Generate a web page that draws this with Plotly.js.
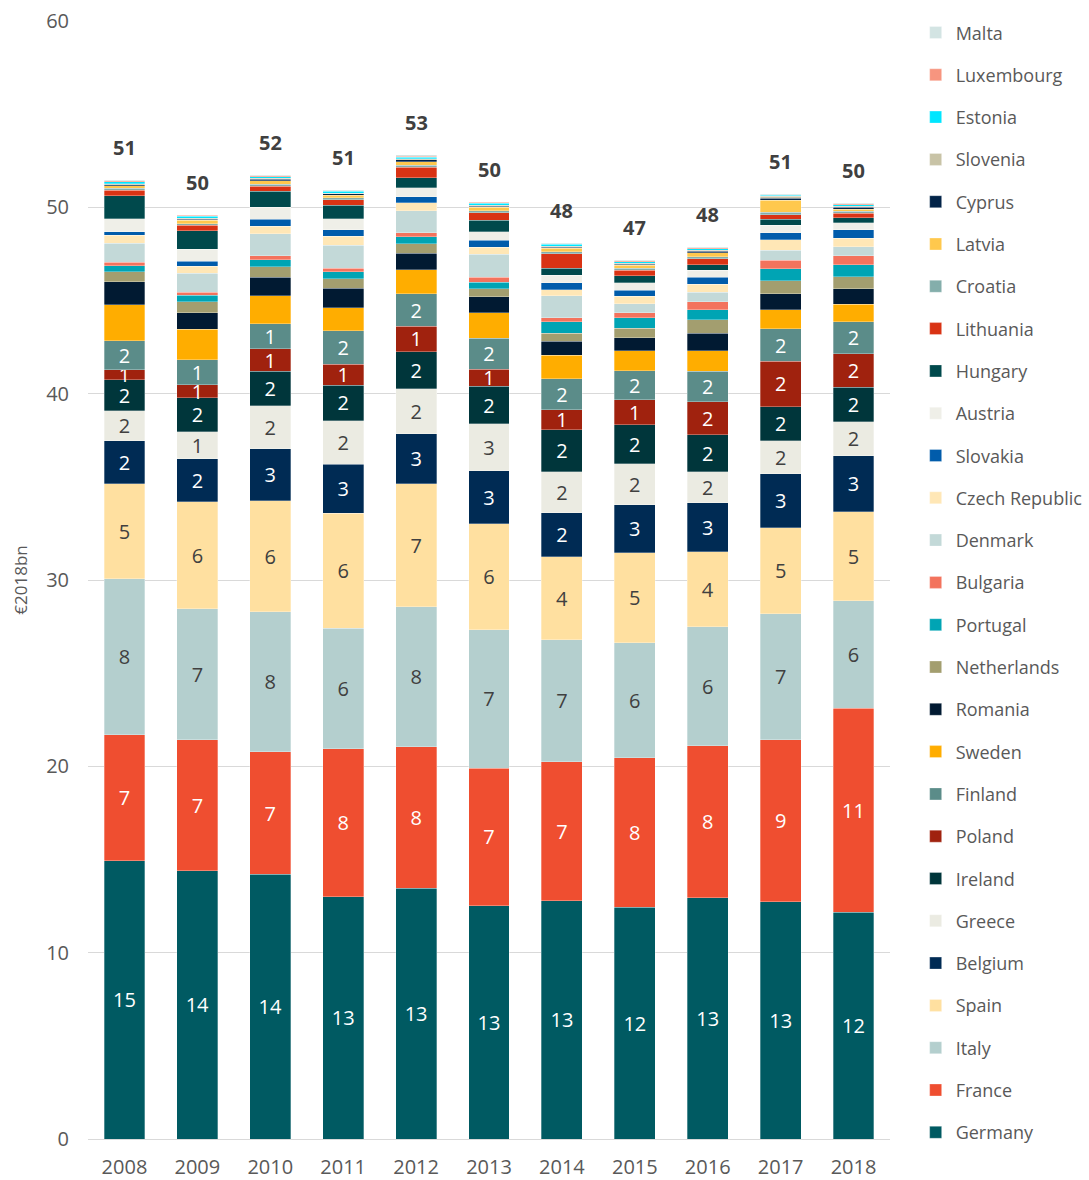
<!DOCTYPE html>
<html>
<head>
<meta charset="utf-8">
<script src="https://cdn.plot.ly/plotly-3.0.1.min.js"></script>
<style>html,body{margin:0;padding:0;background:#fff;}#chart{width:1089px;height:1180px;}</style>
</head>
<body>
<div id="chart"></div>
<script>
const years = ["2008","2009","2010","2011","2012","2013","2014","2015","2016","2017","2018"];

const Germany     = [14.92, 14.39, 14.22, 12.99, 13.47, 12.51, 12.78, 12.45, 12.94, 12.72, 12.18];
const France      = [6.77, 7.03, 6.55, 7.95, 7.57, 7.40, 7.46, 8.00, 8.16, 8.70, 10.95];
const Italy       = [8.37, 7.03, 7.52, 6.48, 7.52, 7.41, 6.55, 6.17, 6.38, 6.76, 5.75];
const Spain       = [5.10, 5.74, 5.96, 6.17, 6.60, 5.69, 4.45, 4.83, 4.03, 4.62, 4.78];
const Belgium     = [2.31, 2.31, 2.79, 2.63, 2.68, 2.85, 2.36, 2.58, 2.63, 2.89, 3.00];
const Greece      = [1.61, 1.45, 2.30, 2.33, 2.43, 2.52, 2.20, 2.20, 1.66, 1.78, 1.84];
const Ireland     = [1.66, 1.82, 1.85, 1.91, 1.99, 2.02, 2.26, 2.10, 1.99, 1.84, 1.85];
const Poland      = [0.54, 0.70, 1.23, 1.13, 1.36, 0.92, 1.07, 1.34, 1.77, 2.43, 1.79];
const Finland     = [1.55, 1.34, 1.34, 1.79, 1.74, 1.66, 1.68, 1.55, 1.65, 1.74, 1.71];
const Sweden      = [1.93, 1.66, 1.49, 1.23, 1.29, 1.35, 1.26, 1.08, 1.09, 1.02, 0.95];
const Romania     = [1.24, 0.86, 1.00, 1.06, 0.89, 0.86, 0.73, 0.70, 0.95, 0.86, 0.82];
const Netherlands = [0.53, 0.60, 0.55, 0.50, 0.50, 0.43, 0.45, 0.50, 0.71, 0.70, 0.66];
const Portugal    = [0.33, 0.35, 0.39, 0.36, 0.39, 0.36, 0.61, 0.57, 0.54, 0.64, 0.63];
const Bulgaria    = [0.20, 0.17, 0.21, 0.21, 0.20, 0.28, 0.21, 0.28, 0.43, 0.45, 0.48];
const Denmark     = [1.00, 1.02, 1.18, 1.23, 1.18, 1.22, 1.18, 0.48, 0.52, 0.55, 0.50];
const Czech       = [0.43, 0.38, 0.41, 0.48, 0.43, 0.39, 0.32, 0.39, 0.41, 0.55, 0.45];
const Slovakia    = [0.20, 0.27, 0.36, 0.34, 0.32, 0.36, 0.39, 0.34, 0.38, 0.39, 0.45];
const Austria     = [0.70, 0.62, 0.66, 0.61, 0.50, 0.47, 0.40, 0.39, 0.38, 0.41, 0.39];
const Hungary     = [1.23, 1.00, 0.86, 0.71, 0.54, 0.61, 0.36, 0.38, 0.30, 0.31, 0.27];
const Lithuania   = [0.30, 0.30, 0.27, 0.31, 0.54, 0.41, 0.79, 0.30, 0.32, 0.23, 0.23];
const Croatia     = [0.10, 0.09, 0.10, 0.10, 0.12, 0.10, 0.10, 0.10, 0.12, 0.14, 0.10];
const Latvia      = [0.15, 0.18, 0.20, 0.12, 0.20, 0.18, 0.20, 0.15, 0.20, 0.66, 0.12];
const Cyprus      = [0.05, 0.05, 0.06, 0.08, 0.09, 0.06, 0.06, 0.06, 0.09, 0.10, 0.10];
const Slovenia    = [0.05, 0.05, 0.05, 0.04, 0.05, 0.05, 0.05, 0.05, 0.05, 0.10, 0.05];
const Estonia     = [0.10, 0.12, 0.10, 0.10, 0.10, 0.10, 0.09, 0.10, 0.09, 0.05, 0.10];
const Luxembourg  = [0.05, 0.04, 0.05, 0.04, 0.05, 0.05, 0.04, 0.05, 0.04, 0.04, 0.04];
const Malta       = [0.05, 0.04, 0.05, 0.04, 0.06, 0.05, 0.05, 0.04, 0.05, 0.05, 0.05];

const countryNames = ["Germany","France","Italy","Spain","Belgium","Greece","Ireland","Poland","Finland","Sweden","Romania","Netherlands","Portugal","Bulgaria","Denmark","Czech Republic","Slovakia","Austria","Hungary","Lithuania","Croatia","Latvia","Cyprus","Slovenia","Estonia","Luxembourg","Malta"];
const countryValues = [Germany,France,Italy,Spain,Belgium,Greece,Ireland,Poland,Finland,Sweden,Romania,Netherlands,Portugal,Bulgaria,Denmark,Czech,Slovakia,Austria,Hungary,Lithuania,Croatia,Latvia,Cyprus,Slovenia,Estonia,Luxembourg,Malta];
const countryColors = ["#005A62","#EF4E30","#B4CFCE","#FFE0A0","#002B54","#EBEBE2","#00363B","#A0220E","#5B8C89","#FFAD00","#011A32","#A39E6F","#00A4B4","#F3735D","#C3D9D8","#FFE7B6","#015CAB","#EFEFE8","#00494C","#D93314","#84AEAB","#FFC84D","#022348","#C8C3A6","#00E6FF","#F7957F","#D3E4E3"];
const labelledCount = 9;
const labelColors = ["#FFFFFF","#FFFFFF","#404040","#404040","#FFFFFF","#404040","#FFFFFF","#FFFFFF","#FFFFFF"];

const font = '"Open Sans", "Noto Sans", sans-serif';

const traces = countryNames.map((name, i) => {
  const t = {
    type: 'bar',
    name: name,
    x: years,
    y: countryValues[i],
    legendgroup: name,
    legendrank: 100 - i,
    marker: {color: countryColors[i], line: {color: 'rgba(255,255,255,0.5)', width: 0.6}},
    hoverinfo: 'x+y+name'
  };
  if (i < labelledCount) {
    t.texttemplate = '%{y:.0f}';
    t.textposition = 'inside';
    t.insidetextanchor = 'middle';
    t.constraintext = 'none';
    t.textangle = 0;
    t.textfont = {family: font, size: 20, color: labelColors[i]};
  } else {
    t.textposition = 'none';
  }
  return t;
});

const totals = years.map((_, j) => countryValues.reduce((s, arr) => s + arr[j], 0));
const annotations = years.map((yr, j) => ({
  x: j, y: totals[j], xref: 'x', yref: 'y',
  text: '<b>' + String(Math.round(totals[j])) + '</b>',
  showarrow: false, yanchor: 'bottom', yshift: 17,
  font: {family: font, size: 20, color: '#404040'}
}));

const layout = {
  width: 1089, height: 1180,
  margin: {l: 88, r: 199, t: 21, b: 41, autoexpand: false},
  barmode: 'stack',
  bargap: 0.44,
  paper_bgcolor: '#ffffff',
  plot_bgcolor: '#ffffff',
  font: {family: font, color: '#595959'},
  showlegend: true,
  legend: {
    x: 1.032, xanchor: 'left', y: 1.006, yanchor: 'top',
    traceorder: 'grouped',
    tracegroupgap: 15.9,
    maxheight: 1180,
    font: {family: font, size: 18, color: '#595959'}
  },
  xaxis: {
    type: 'category',
    range: [-0.5, 10.5],
    autorange: false,
    tickfont: {family: font, size: 20, color: '#595959'},
    showgrid: false, zeroline: false, showline: false,
    ticks: 'outside', ticklen: 10, tickcolor: 'rgba(0,0,0,0)'
  },
  yaxis: {
    range: [0, 60],
    autorange: false,
    tickvals: [0, 10, 20, 30, 40, 50, 60],
    tickfont: {family: font, size: 20, color: '#595959'},
    gridcolor: '#D9D9D9', gridwidth: 1.3,
    zeroline: true, zerolinecolor: '#D9D9D9', zerolinewidth: 1.3,
    showline: false, ticks: 'outside', ticklen: 14, tickcolor: 'rgba(0,0,0,0)',
    title: {text: '€2018bn', font: {family: font, size: 17, color: '#595959'}, standoff: 14}
  },
  annotations: annotations
};

Plotly.newPlot('chart', traces, layout, {displayModeBar: false});
</script>
</body>
</html>
